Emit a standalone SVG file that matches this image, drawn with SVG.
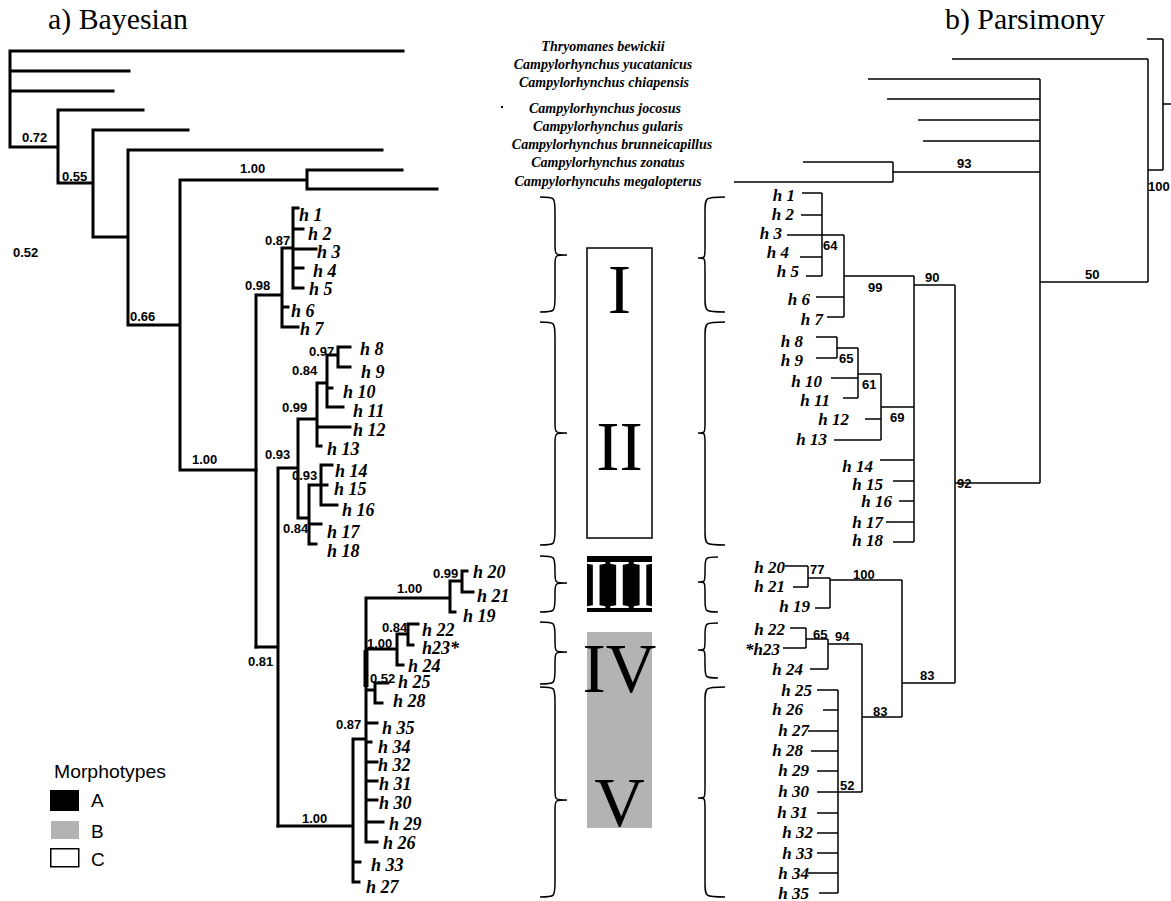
<svg xmlns="http://www.w3.org/2000/svg" width="1171" height="901" viewBox="0 0 1171 901">
<style>
.bg{fill:#fff}
.lt{fill:none;stroke:#000;stroke-width:3;stroke-linecap:square}
.rt{fill:none;stroke:#000;stroke-width:1.5}
.br{fill:none;stroke:#000;stroke-width:1.5}
.hl{font-family:"Liberation Serif",serif;font-weight:bold;font-style:italic;font-size:18px;fill:#000}
.hr{font-family:"Liberation Serif",serif;font-weight:bold;font-style:italic;font-size:17px;fill:#000;text-anchor:end}
.sp{font-family:"Liberation Serif",serif;font-weight:bold;font-style:italic;font-size:14px;fill:#000;text-anchor:middle}
.n{font-family:"Liberation Sans",sans-serif;font-weight:bold;font-size:13px;fill:#000}
.ti{font-family:"Liberation Serif",serif;font-size:29px;fill:#000}
.rn{font-family:"Liberation Serif",serif;font-size:70px;text-anchor:middle}
.lg{font-family:"Liberation Sans",sans-serif;font-size:19px;fill:#000}
</style>
<rect class="bg" x="0" y="0" width="1171" height="901"/>
<text class="ti" x="48" y="29" textLength="140" lengthAdjust="spacingAndGlyphs">a) Bayesian</text>
<text class="ti" x="945" y="29" textLength="160" lengthAdjust="spacingAndGlyphs">b) Parsimony</text>

<g id="connectors">
<g id="bayes-tree">
<path class="lt" d="M10,51H403M10,51V147M10,71H129M10,91H113M10,147H58M58,110V183M58,110H143M58,183H93M93,130V237M93,130H188M93,237H128M128,150V325M128,150H382M128,325H180M180,180V470M180,180H307M307,170V189M307,170H402M307,189H437M180,470H256"/>
<path class="lt" d="M256,295V647M256,295H282M282,248V327M282,248H293M293,208V288M293,208H298M293,229H303M293,249H316M293,268H303M293,288H303M282,307H288M282,327H298"/>
<path class="lt" d="M256,647H278M278,468V826M278,468H298M298,419V518M298,419H317M317,383V446M317,383H327M327,355V407M327,355H338M338,347V367M338,347H350M338,367H350M327,388H332M327,407H343M317,427H350M317,446H321M298,518H309M309,485V544M309,485H321M321,465V505M321,465H332M321,485H327M321,505H337M309,524H321M309,544H316"/>
<path class="lt" d="M278,826H353M353,739V882M353,739H366M353,862H360M353,882H359M366,598V842M366,598H450M450,581V612M450,581H462M462,571V592M462,571H467M462,592H473M450,612H455M366,649H397M397,634V665M397,634H408M408,624V645M408,624H418M408,645H413M397,665H403M366,690H375M375,683V703M375,683H388M375,703H382M366,723H377M366,742H371M366,762H377M366,781H377M366,800H377M366,822H383M366,842H377"/>
<path d="M366,650V687" fill="none" stroke="#000" stroke-width="5"/>
</g>
<g id="parsimony-tree">
<path class="rt" d="M1147,39H1163M1163,39V170M1148,170H1163M1163,104H1171M952,59H1148M1148,59V282M1040,282H1148M1040,79V483M868,79H1040M887,99H1040M918,120H1040M923,141H1040M893,172H1040M893,162V182M803,162H893M734,182H893M955,483H1040"/>
<path class="rt" d="M955,285V683M914,285H955M914,276V542M844,276H914M844,235V317M787,235H844M822,193V276M802,193H822M801,215H822M800,257H822M806,276H822M816,297H844M827,317H844"/>
<path class="rt" d="M881,407H914M881,374V440M858,374H881M858,348V398M837,348H858M837,337V358M816,337H837M816,358H837M831,378H858M843,398H858M865,419H881M834,440H881M880,460H914M893,481H914M899,501H914M886,522H914M893,542H914"/>
<path class="rt" d="M902,683H955M902,580V717M830,580H902M830,578V608M808,578H830M808,566V587M785,566H808M793,587H808M815,608H830M862,717H902M862,644V792M828,644H862M828,639V669M806,639H828M806,628V648M790,628H806M783,648H806M810,669H828"/>
<path class="rt" d="M838,792H862M838,690V893M817,690H838M823,710H838M808,731H838M811,751H838M817,771H838M817,792H838M817,813H838M817,833H838M817,853H838M808,873H838M819,893H838"/>
</g>
</g>

<g id="bayes-support">
<text class="n" x="22" y="142">0.72</text>
<text class="n" x="62" y="181">0.55</text>
<text class="n" x="13" y="257">0.52</text>
<text class="n" x="130" y="321">0.66</text>
<text class="n" x="240" y="173">1.00</text>
<text class="n" x="192" y="464">1.00</text>
<text class="n" x="245" y="290">0.98</text>
<text class="n" x="265" y="245">0.87</text>
<text class="n" x="309" y="356">0.97</text>
<text class="n" x="292" y="375">0.84</text>
<text class="n" x="282" y="412">0.99</text>
<text class="n" x="265" y="459">0.93</text>
<text class="n" x="292" y="480">0.93</text>
<text class="n" x="283" y="533">0.84</text>
<text class="n" x="248" y="666">0.81</text>
<text class="n" x="397" y="593">1.00</text>
<text class="n" x="433" y="578">0.99</text>
<text class="n" x="382" y="632">0.84</text>
<text class="n" x="367" y="648">1.00</text>
<text class="n" x="370" y="683">0.52</text>
<text class="n" x="336" y="729">0.87</text>
<text class="n" x="302" y="823">1.00</text>
</g>

<g id="bayes-leaves">
<text class="hl" x="299" y="221">h 1</text>
<text class="hl" x="308" y="240">h 2</text>
<text class="hl" x="317" y="258">h 3</text>
<text class="hl" x="313" y="277">h 4</text>
<text class="hl" x="309" y="295">h 5</text>
<text class="hl" x="291" y="317">h 6</text>
<text class="hl" x="300" y="335">h 7</text>
<text class="hl" x="360" y="355">h 8</text>
<text class="hl" x="361" y="378">h 9</text>
<text class="hl" x="343" y="398">h 10</text>
<text class="hl" x="353" y="417">h 11</text>
<text class="hl" x="353" y="436">h 12</text>
<text class="hl" x="327" y="455">h 13</text>
<text class="hl" x="335" y="477">h 14</text>
<text class="hl" x="334" y="495">h 15</text>
<text class="hl" x="342" y="516">h 16</text>
<text class="hl" x="327" y="538">h 17</text>
<text class="hl" x="327" y="557">h 18</text>
<text class="hl" x="473" y="578">h 20</text>
<text class="hl" x="477" y="602">h 21</text>
<text class="hl" x="463" y="622">h 19</text>
<text class="hl" x="422" y="636">h 22</text>
<text class="hl" x="422" y="654">h23*</text>
<text class="hl" x="408" y="672">h 24</text>
<text class="hl" x="398" y="688">h 25</text>
<text class="hl" x="393" y="707">h 28</text>
<text class="hl" x="382" y="734">h 35</text>
<text class="hl" x="378" y="753">h 34</text>
<text class="hl" x="378" y="771">h 32</text>
<text class="hl" x="379" y="790">h 31</text>
<text class="hl" x="379" y="809">h 30</text>
<text class="hl" x="389" y="830">h 29</text>
<text class="hl" x="383" y="849">h 26</text>
<text class="hl" x="371" y="871">h 33</text>
<text class="hl" x="366" y="893">h 27</text>
</g>

<g id="outgroup-names">
<text class="sp" x="603" y="51">Thryomanes bewickii</text>
<text class="sp" x="603" y="69">Campylorhynchus yucatanicus</text>
<text class="sp" x="604" y="87">Campylorhynchus chiapensis</text>
<text class="sp" x="605" y="113">Campylorhynchus jocosus</text>
<text class="sp" x="608" y="131">Campylorhynchus gularis</text>
<text class="sp" x="612" y="149">Campylorhynchus brunneicapillus</text>
<text class="sp" x="608" y="167">Campylorhynchus zonatus</text>
<text class="sp" x="608" y="186">Campylorhyncuhs megalopterus</text>
<rect x="501" y="106" width="2" height="2" fill="#000"/>
</g>

<g id="parsimony-support">
<text class="n" x="1148" y="191">100</text>
<text class="n" x="957" y="168">93</text>
<text class="n" x="1085" y="279">50</text>
<text class="n" x="823" y="250">64</text>
<text class="n" x="868" y="292">99</text>
<text class="n" x="925" y="282">90</text>
<text class="n" x="839" y="363">65</text>
<text class="n" x="862" y="389">61</text>
<text class="n" x="890" y="422">69</text>
<text class="n" x="957" y="488">92</text>
<text class="n" x="810" y="574">77</text>
<text class="n" x="853" y="579">100</text>
<text class="n" x="813" y="639">65</text>
<text class="n" x="835" y="641">94</text>
<text class="n" x="920" y="680">83</text>
<text class="n" x="873" y="716">83</text>
<text class="n" x="840" y="790">52</text>
</g>

<g id="parsimony-leaves">
<text class="hr" x="795" y="201">h 1</text>
<text class="hr" x="794" y="220">h 2</text>
<text class="hr" x="782" y="239">h 3</text>
<text class="hr" x="789" y="258">h 4</text>
<text class="hr" x="799" y="277">h 5</text>
<text class="hr" x="810" y="305">h 6</text>
<text class="hr" x="823" y="325">h 7</text>
<text class="hr" x="803" y="347">h 8</text>
<text class="hr" x="803" y="366">h 9</text>
<text class="hr" x="822" y="387">h 10</text>
<text class="hr" x="830" y="406">h 11</text>
<text class="hr" x="849" y="425">h 12</text>
<text class="hr" x="827" y="445">h 13</text>
<text class="hr" x="873" y="472">h 14</text>
<text class="hr" x="883" y="490">h 15</text>
<text class="hr" x="892" y="507">h 16</text>
<text class="hr" x="883" y="528">h 17</text>
<text class="hr" x="883" y="546">h 18</text>
<text class="hr" x="785" y="573">h 20</text>
<text class="hr" x="785" y="592">h 21</text>
<text class="hr" x="810" y="612">h 19</text>
<text class="hr" x="785" y="635">h 22</text>
<text class="hr" x="780" y="655">*h23</text>
<text class="hr" x="803" y="675">h 24</text>
<text class="hr" x="812" y="696">h 25</text>
<text class="hr" x="803" y="715">h 26</text>
<text class="hr" x="809" y="736">h 27</text>
<text class="hr" x="803" y="756">h 28</text>
<text class="hr" x="809" y="776">h 29</text>
<text class="hr" x="809" y="797">h 30</text>
<text class="hr" x="808" y="818">h 31</text>
<text class="hr" x="813" y="838">h 32</text>
<text class="hr" x="813" y="859">h 33</text>
<text class="hr" x="809" y="879">h 34</text>
<text class="hr" x="809" y="899">h 35</text>
</g>

<g id="braces-left">
<path class="br" d="M540,197C555,197 555,197 555,212L555,245C555,255 555,255 567,255C555,255 555,255 555,265L555,297C555,312 555,312 540,312"/>
<path class="br" d="M540,322C555,322 555,322 555,337L555,423C555,433 555,433 567,433C555,433 555,433 555,443L555,530C555,545 555,545 540,545"/>
<path class="br" d="M540,556C555,556 555,556 555,571L555,573C555,583 555,583 567,583C555,583 555,583 555,593L555,597C555,612 555,612 540,612"/>
<path class="br" d="M540,622C555,622 555,622 555,637L555,642C555,652 555,652 567,652C555,652 555,652 555,662L555,669C555,684 555,684 540,684"/>
<path class="br" d="M540,687C555,687 555,687 555,702L555,790C555,800 555,800 567,800C555,800 555,800 555,810L555,882C555,897 555,897 540,897"/>
</g>
<g id="braces-right">
<path class="br" d="M725,197C705,197 705,197 705,212L705,248C705,258 705,258 698,258C705,258 705,258 705,268L705,297C705,312 705,312 725,312"/>
<path class="br" d="M725,322C705,322 705,322 705,337L705,423C705,433 705,433 698,433C705,433 705,433 705,443L705,530C705,545 705,545 725,545"/>
<path class="br" d="M718,557C705,557 705,557 705,570L705,572C705,582 705,582 698,582C705,582 705,582 705,592L705,599C705,612 705,612 718,612"/>
<path class="br" d="M718,623C705,623 705,623 705,636L705,640C705,650 705,650 698,650C705,650 705,650 705,660L705,665C705,678 705,678 718,678"/>
<path class="br" d="M725,687C705,687 705,687 705,702L705,788C705,798 705,798 698,798C705,798 705,798 705,808L705,882C705,897 705,897 725,897"/>
</g>

<g id="box-I-II">
<rect x="587" y="248" width="65" height="290" fill="#fff" stroke="#000" stroke-width="1.5"/>
<text class="rn" x="619.5" y="313" fill="#000">I</text>
<text class="rn" x="619.5" y="470" fill="#000">II</text>
</g>
<g id="box-III">
<rect x="587" y="556" width="65" height="56" fill="#000"/>
<text class="rn" x="619.5" y="608" fill="#fff">III</text>
</g>
<g id="box-IV-V">
<rect x="587" y="632" width="65" height="196" fill="#b3b3b3"/>
<text class="rn" x="619.5" y="692" fill="#000">IV</text>
<text class="rn" x="619.5" y="826" fill="#000">V</text>
</g>

<g id="legend">
<text class="lg" x="54" y="778" textLength="112" lengthAdjust="spacingAndGlyphs">Morphotypes</text>
<rect x="50" y="790" width="29" height="21" fill="#000"/>
<text class="lg" x="91" y="807">A</text>
<rect x="51" y="821" width="28" height="18" fill="#b3b3b3"/>
<text class="lg" x="91" y="838">B</text>
<rect x="50.75" y="848.75" width="28" height="18" fill="#fff" stroke="#000" stroke-width="1.5"/>
<text class="lg" x="91" y="866">C</text>
</g>
</svg>
